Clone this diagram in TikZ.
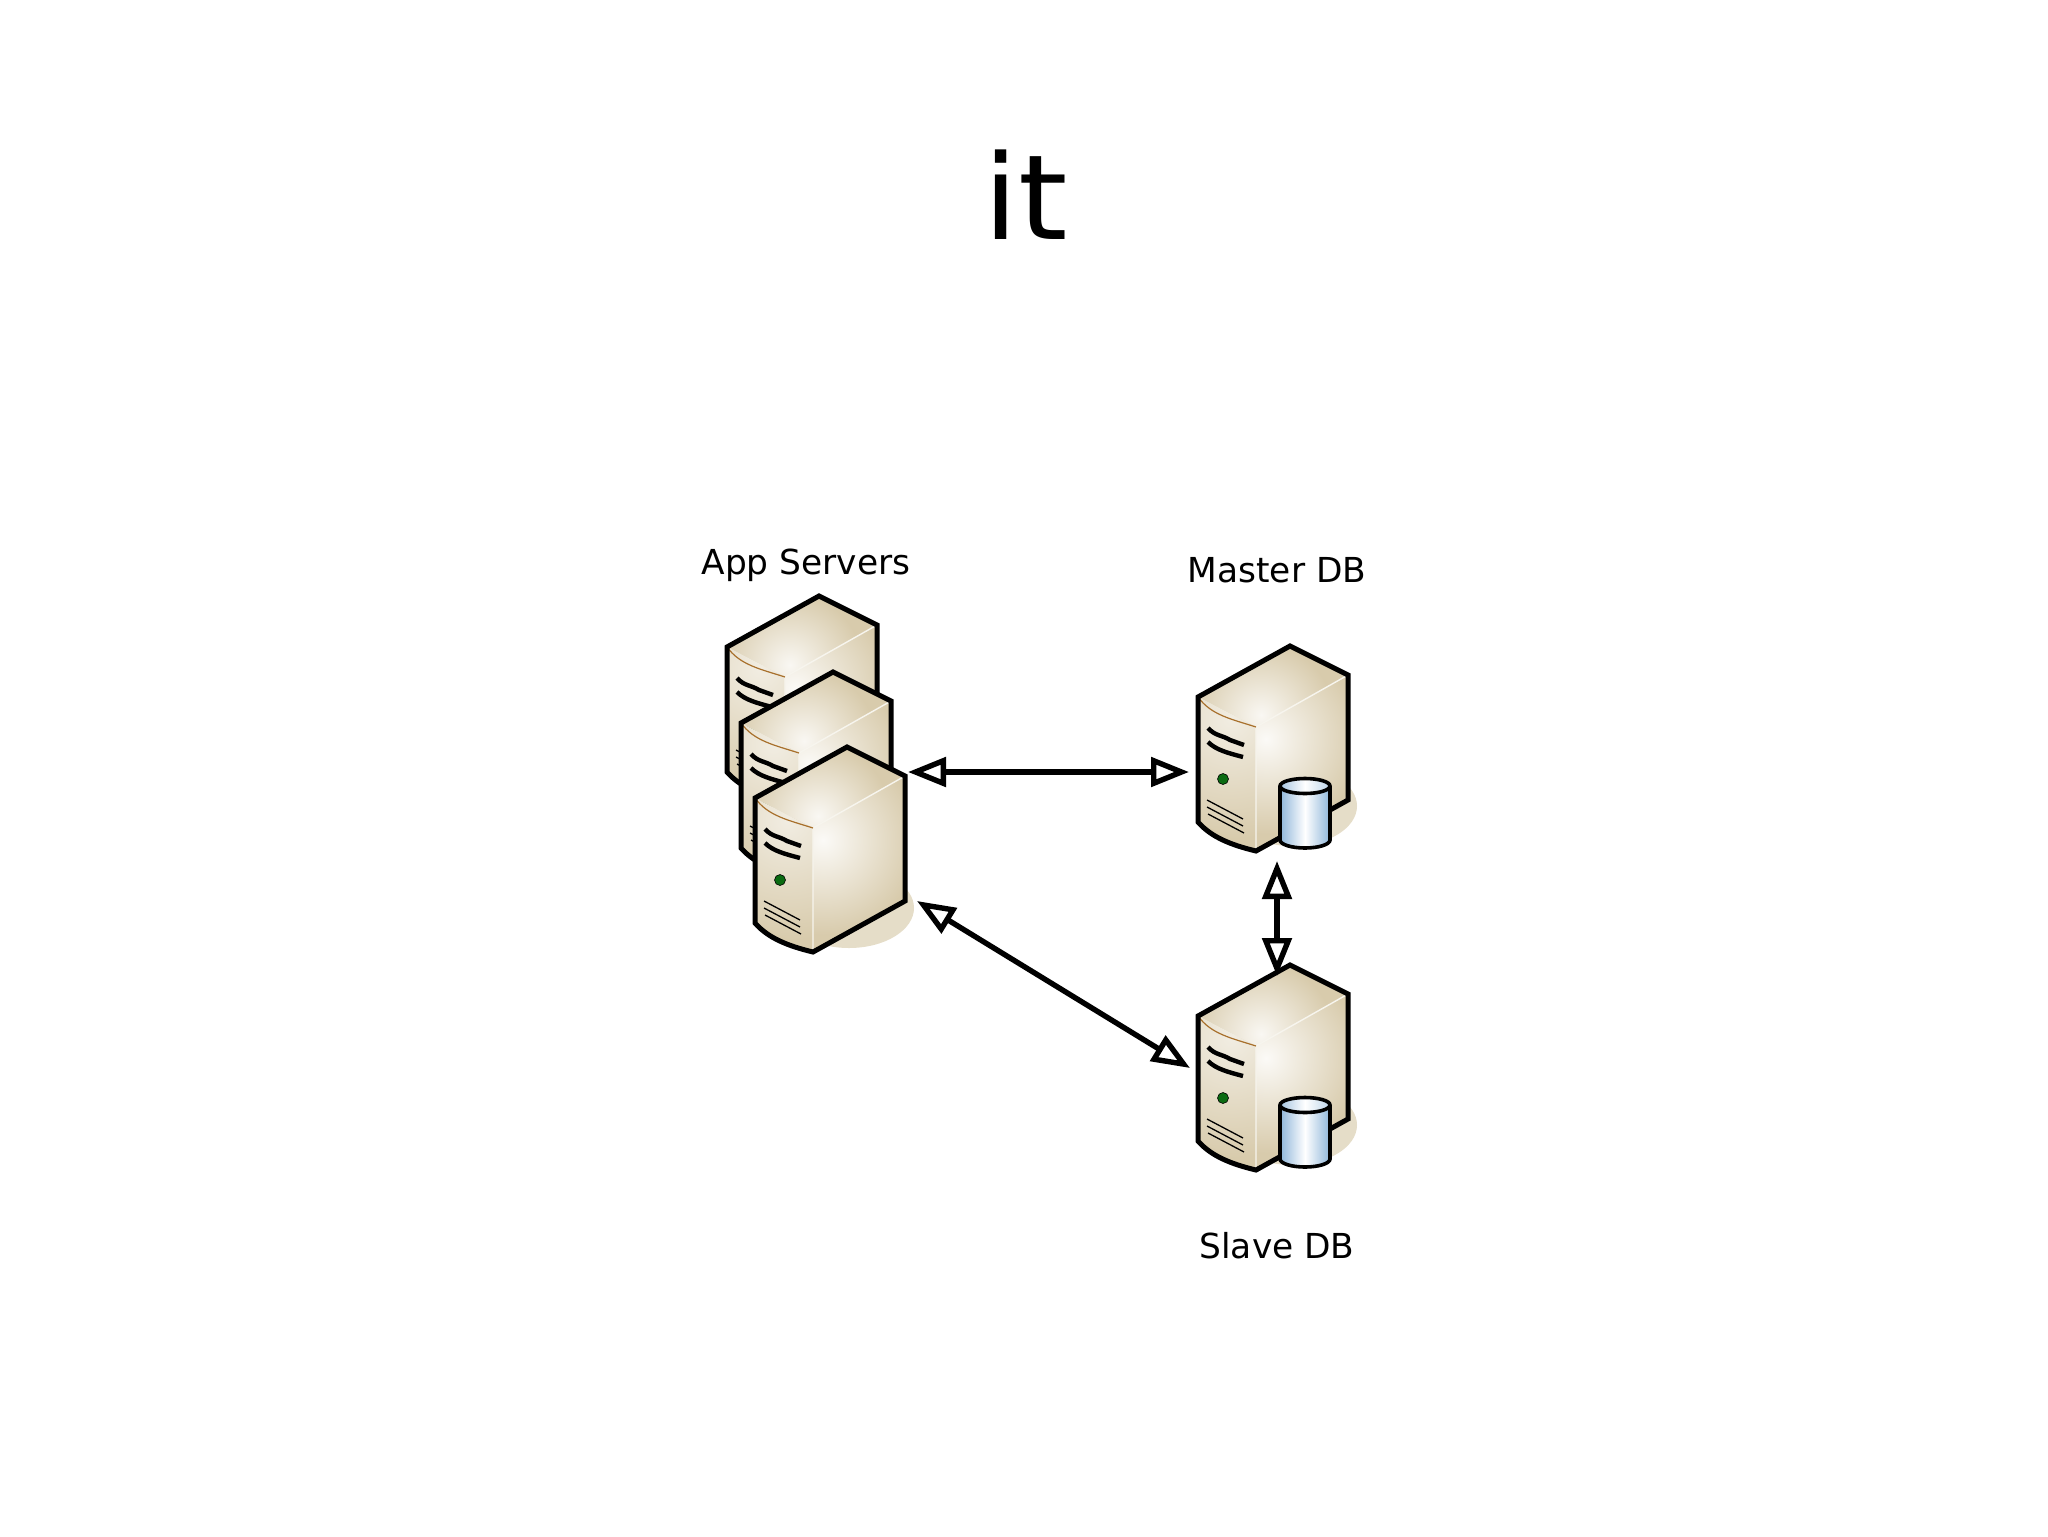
\documentclass[tikz,border=0pt]{standalone}
\usepackage{fontspec}
\setmainfont{DejaVu Sans}
\usetikzlibrary{arrows.meta}
\definecolor{beige}{HTML}{D8CBAC}
\definecolor{shadow}{HTML}{E5DDC8}
\definecolor{trim}{HTML}{A8702C}
\definecolor{led}{HTML}{0B6B12}
\definecolor{glass}{HTML}{8FB6DA}
\tikzset{
  outline/.style={draw=black,line width=2.5pt,line join=miter},
  slot/.style={line width=2.2pt},
  vent/.style={line width=.65pt},
  label/.style={anchor=base,font=\fontsize{17.2pt}{20pt}\selectfont,inner sep=0pt},
  link/.style={line width=2.7pt,{Triangle[open,fill=white,length=19pt,width=14.5pt]}-{Triangle[open,fill=white,length=19pt,width=14.5pt]}},
  pics/floorshadow/.style={code={
    \fill[shadow] (36,79) ellipse [x radius=65,y radius=40];
  }},
  pics/server/.style={code={
    % body, origin is the corner where the three faces meet
    \fill[beige] (0,0) -- (-58,-30) -- (34,-81) -- (92,-52) -- (92,73) -- (0,124)
      .. controls (-25,118) and (-45,110) .. (-58,95) -- cycle;
    \begin{scope}
      \clip (0,0) -- (-58,-30) -- (34,-81) -- (92,-52) -- cycle;
      \shade[inner color=white!85!beige,outer color=beige] (5,-12) circle (72);
    \end{scope}
    \begin{scope}
      \clip (0,0) -- (92,-52) -- (92,73) -- (0,124) -- cycle;
      \shade[inner color=white!90!beige,outer color=beige] (10,12) circle (95);
    \end{scope}
    \begin{scope}
      \clip (0,0) -- (-58,-30) -- (-58,95) -- (0,124) -- cycle;
      \shade[inner color=white!65!beige,outer color=beige] (-25,-8) circle (120);
    \end{scope}
    \draw[white!80!beige,line width=.7pt] (0,0) -- (0,124) (0,0) -- (92,-52);
    \draw[trim,line width=.6pt] (-58,-30) .. controls (-45,-12) and (-25,-8) .. (0,0);
    \draw[slot] (-48,1) .. controls (-41,9) and (-34,8) .. (-26,13) -- (-12,18);
    \draw[slot] (-48,15) .. controls (-40,23) and (-28,26) .. (-13,30);
    \fill[led,draw=black,line width=.3pt] (-33,52) circle (5.5);
    \draw[vent] (-49,73) -- (-13,92) (-49,80) -- (-13,99) (-48,87) -- (-12,106);
    \draw[outline] (-58,-30) -- (34,-81) -- (92,-52) -- (92,73) -- (0,124)
      .. controls (-25,118) and (-45,110) .. (-58,95) -- cycle;
  }},
  pics/database/.style={code={
    % origin is the middle of the top ellipse, y points down so the arc runs 180 to 0
    \shade[left color=glass,right color=glass,middle color=white]
      (-25,0) -- (-25,54) arc [start angle=180,end angle=0,x radius=25,y radius=8] -- (25,0) -- cycle;
    \shade[left color=glass!80!white,right color=glass!60!white,middle color=white]
      (0,0) ellipse [x radius=25,y radius=7.5];
    \draw[line width=1.8pt] (-25,0) -- (-25,54) arc [start angle=180,end angle=0,x radius=25,y radius=8] -- (25,0);
    \draw[line width=1.8pt] (0,0) ellipse [x radius=25,y radius=7.5];
  }}
}
\begin{document}
\begin{tikzpicture}[x=.5pt,y=-.5pt]
\useasboundingbox (0,0) rectangle (2048,1536);

\node[anchor=base,inner sep=0pt,font=\fontsize{59pt}{70pt}\selectfont] (title) at (1026,239) {\scalebox{1.07}[1]{it}};

% app servers, back to front
\pic at (785,677) {server};
\pic at (799,753) {server};
\pic at (813,829) {floorshadow};
\pic at (813,828) {server};
\node[label] (applabel) at (806,574) {App Servers};

% master
\pic at (1256,727) {floorshadow};
\pic at (1256,727) {server};
\pic at (1305,786) {database};
\node[label] (masterlabel) at (1277,582) {Master DB};

% slave
\pic at (1256,1046) {floorshadow};
\pic at (1256,1046) {server};
\pic at (1305,1105) {database};
\node[label] (slavelabel) at (1277,1258) {Slave DB};

% connector ends
\coordinate (appE) at (908,772);
\coordinate (masterW) at (1189,772);
\coordinate (masterS) at (1277,861);
\coordinate (slaveN) at (1277,976);
\coordinate (appSE) at (917,901);
\coordinate (slaveW) at (1190,1068);

\draw[link] (appE) -- (masterW);
\draw[link] (masterS) -- (slaveN);
\draw[link] (appSE) -- (slaveW);
\end{tikzpicture}
\end{document}
